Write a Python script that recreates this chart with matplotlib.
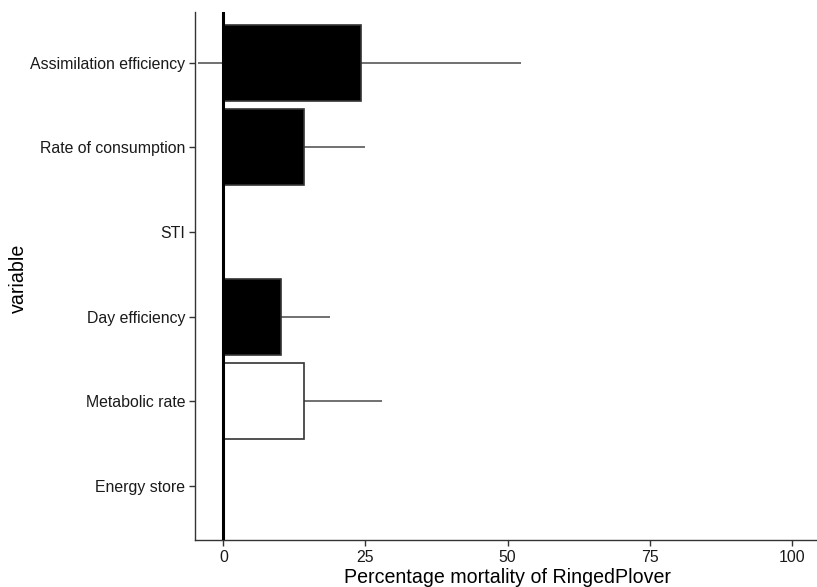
import matplotlib
matplotlib.use("Agg")
import matplotlib.pyplot as plt

categories = ["Energy store", "Metabolic rate", "Day efficiency", "STI",
              "Rate of consumption", "Assimilation efficiency"]
values = [0.0, 14.1, 10.2, 0.0, 14.1, 24.2]
err_low = [0.0, 3.0, 2.0, 0.0, 3.0, -4.5]
err_high = [0.0, 27.9, 18.7, 0.0, 25.0, 52.4]
fills = ["black", "white", "black", "black", "black", "black"]
xticks = [0, 25, 50, 75, 100]

plt.rcParams['font.family'] = ['Liberation Sans', 'DejaVu Sans']

W, H = 817, 587
fig = plt.figure(figsize=(W / 100, H / 100), dpi=100)
left, right, top, bottom = 195, 820, 12, 540
ax = fig.add_axes([left / W, 1 - bottom / H, (right - left) / W, (bottom - top) / H])

ypos = list(range(1, len(categories) + 1))
ax.hlines(ypos, err_low, err_high, color="#707070", lw=1.4, zorder=1)
ax.barh(ypos, values, height=0.9, color=fills, edgecolor="#333333", lw=1.2, zorder=2)
ax.axvline(0, color="black", lw=2.2, zorder=3)

ax.set_xlim(-5, 105)
ax.set_ylim(0.36, 6.6)
ax.set_yticks(ypos)
ax.set_yticklabels(categories)
ax.set_xticks(xticks)
ax.set_xticklabels([str(t) for t in xticks])

for s in ["top", "right"]:
    ax.spines[s].set_visible(False)
for s in ["left", "bottom"]:
    ax.spines[s].set_color("#333333")
    ax.spines[s].set_linewidth(1.0)
ax.tick_params(axis="both", colors="#333333", labelcolor="#1a1a1a", labelsize=11.4, length=4, width=1.0)
ax.tick_params(axis="y", pad=3)
ax.set_xlabel("Percentage mortality of RingedPlover", fontsize=14.1, color="black", labelpad=2)
ax.set_ylabel("variable", fontsize=14.1, color="black")
ax.yaxis.set_label_coords(-0.268, 0.495)

fig.savefig("out.png", dpi=100)
